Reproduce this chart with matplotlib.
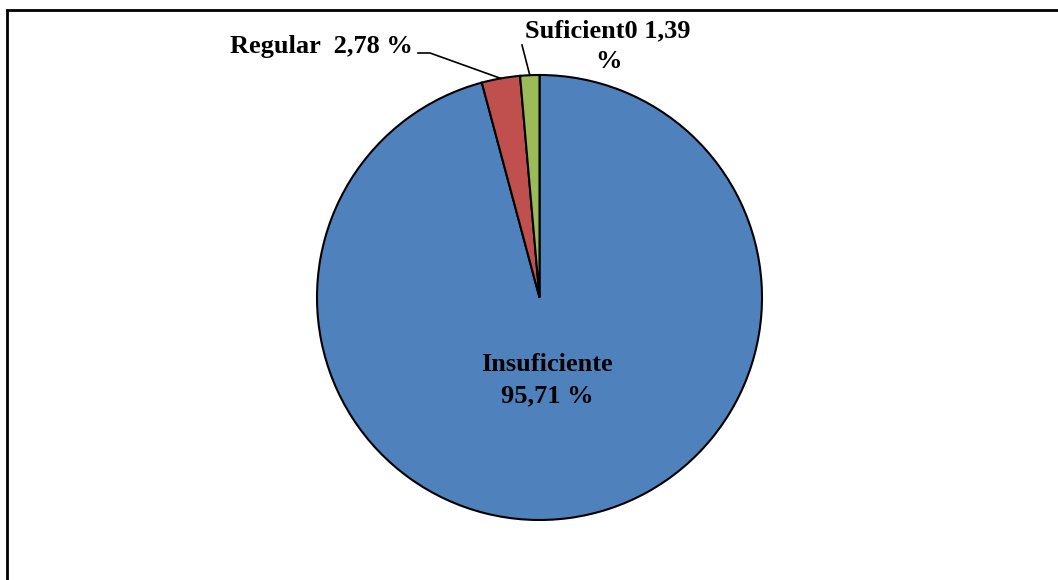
import numpy as np
import matplotlib
matplotlib.use("Agg")
import matplotlib.pyplot as plt
from matplotlib.patches import Rectangle

categories = ["Insuficiente", "Regular", "Suficient0"]
values = [95.71, 2.78, 1.39]
value_labels = ["95,71 %", "2,78 %", "1,39 %"]
colors = ["#4F81BD", "#C0504D", "#9BBB59"]

W, H = 1058, 580
fig = plt.figure(figsize=(W / 100, H / 100), dpi=100)
ax = fig.add_axes([0, 0, 1, 1])

cx, cy, r = 539.5, H - 297.5, 222.5
wedges, _ = ax.pie(values, colors=colors, startangle=90, counterclock=False,
                   center=(cx, cy), radius=r,
                   wedgeprops=dict(edgecolor="black", linewidth=1.5))
ax.set_xlim(0, W)
ax.set_ylim(0, H)
ax.set_aspect("equal")
ax.axis("off")

# chart frame (open on the right and bottom)
fig.patches.append(Rectangle((7 / W, -0.1), 1.2, (H - 10) / H + 0.1,
                             transform=fig.transFigure, fill=False,
                             edgecolor="black", linewidth=2.0))

font = dict(family="Liberation Serif", weight="bold", size=19, color="black")

def arc_point(w, frac=1.0):
    ang = np.deg2rad((w.theta1 + w.theta2) / 2)
    return cx + r * frac * np.cos(ang), cy + r * frac * np.sin(ang)

# main slice label inside
ax.text(547, H - 380, f"{categories[0]}\n{value_labels[0]}", ha="center",
        va="center", linespacing=1.45, **font)

# Regular label with elbow leader
px, py = arc_point(wedges[1])
ax.text(413, H - 47, f"{categories[1]}  {value_labels[1]}", ha="right",
        va="center", **font)
ax.plot([418, 430, px], [H - 53, H - 53, py], color="black", lw=1.2)

# Suficiente label above
px, py = arc_point(wedges[2])
ax.text(608, H - 46, f"{categories[2]} {value_labels[2].split()[0]}\n%",
        ha="center", va="center", linespacing=1.45, **font)
ax.plot([522, px], [H - 45, py], color="black", lw=1.2)

fig.savefig("out.png", dpi=100)
